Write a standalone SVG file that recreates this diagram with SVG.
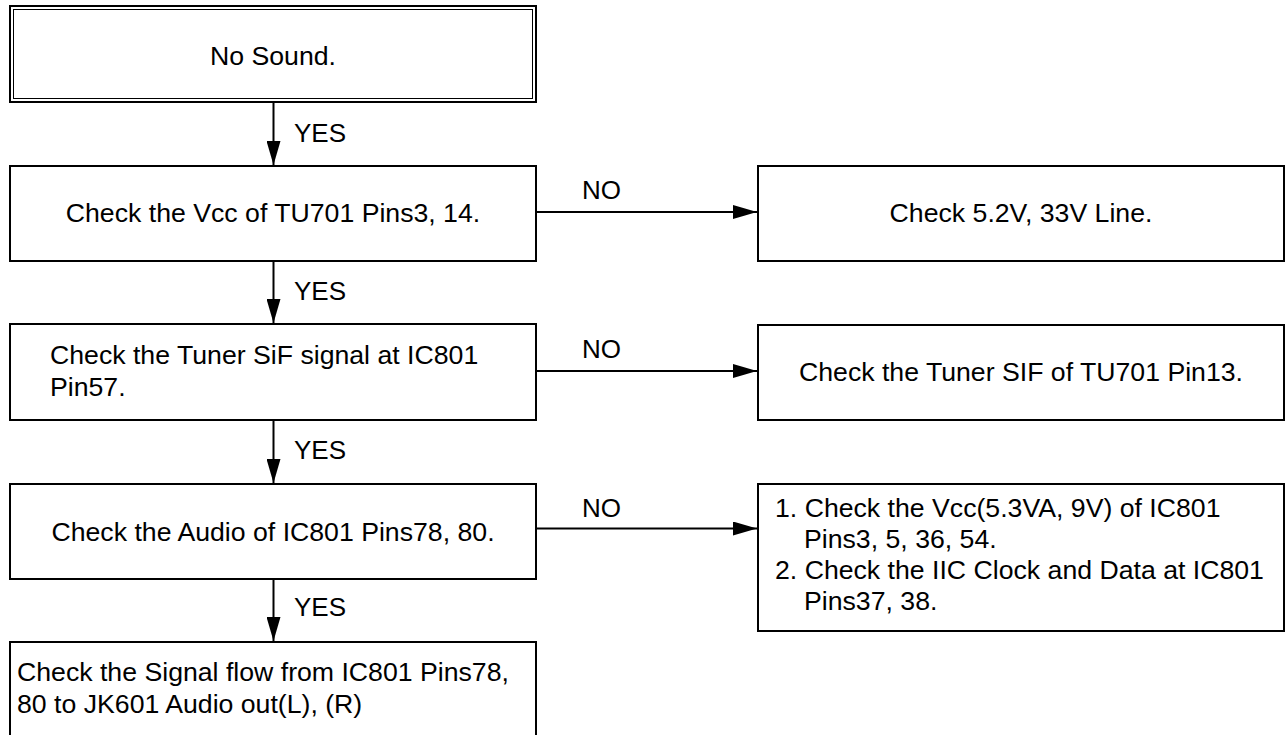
<svg xmlns="http://www.w3.org/2000/svg" width="1286" height="735" viewBox="0 0 1286 735">
<style>
  .box { fill: #ffffff; stroke: #000000; stroke-width: 2; }
  .inner { fill: none; stroke: #000000; stroke-width: 1; }
  .t { font-family: "Liberation Sans", Arial, Helvetica, sans-serif; font-size: 26.67px; fill: #000000; }
  .c { text-anchor: middle; }
  .lbl { font-family: "Liberation Sans", Arial, Helvetica, sans-serif; font-size: 26px; fill: #000000; }
  .conn { fill: none; stroke: #000000; stroke-width: 2; marker-end: url(#arrow); }
</style>
<defs>
  <marker id="arrow" viewBox="0 0 24 14" refX="24" refY="7" markerWidth="24" markerHeight="14" markerUnits="userSpaceOnUse" orient="auto">
    <path d="M0,0 L24,7 L0,14 Z" fill="#000000"/>
  </marker>
</defs>
<rect x="0" y="0" width="1286" height="735" fill="#ffffff"/>

<g id="start">
  <rect class="box" x="10" y="6" width="526" height="96"/>
  <rect class="inner" x="13.5" y="9.5" width="519" height="89"/>
  <text class="t c" x="273" y="65">No Sound.</text>
</g>

<g id="check-vcc-tu701">
  <rect class="box" x="10" y="166" width="526" height="95"/>
  <text class="t c" x="273" y="222">Check the Vcc of TU701 Pins3, 14.</text>
</g>

<g id="check-52v-33v">
  <rect class="box" x="758" y="166" width="526" height="95"/>
  <text class="t c" x="1021" y="222">Check 5.2V, 33V Line.</text>
</g>

<g id="check-tuner-sif-ic801">
  <rect class="box" x="10" y="324" width="526" height="96"/>
  <text class="t" x="50" y="364">Check the Tuner SiF signal at IC801</text>
  <text class="t" x="50" y="396">Pin57.</text>
</g>

<g id="check-tuner-sif-tu701">
  <rect class="box" x="758" y="325" width="526" height="95"/>
  <text class="t c" x="1021" y="381">Check the Tuner SIF of TU701 Pin13.</text>
</g>

<g id="check-audio-ic801">
  <rect class="box" x="10" y="484" width="526" height="95"/>
  <text class="t c" x="273" y="541">Check the Audio of IC801 Pins78, 80.</text>
</g>

<g id="check-vcc-iic">
  <rect class="box" x="758" y="484" width="526" height="147"/>
  <text class="t" x="775" y="517">1. Check the Vcc(5.3VA, 9V) of IC801</text>
  <text class="t" x="804" y="548">Pins3, 5, 36, 54.</text>
  <text class="t" x="775" y="579">2. Check the IIC Clock and Data at IC801</text>
  <text class="t" x="804" y="610">Pins37, 38.</text>
</g>

<g id="check-signal-flow">
  <rect class="box" x="10" y="642" width="526" height="94"/>
  <text class="t" x="17" y="681">Check the Signal flow from IC801 Pins78,</text>
  <text class="t" x="17" y="713">80 to JK601 Audio out(L), (R)</text>
</g>

<g id="connectors">
  <path class="conn" d="M273.5,103 L273.5,165"/>
  <text class="lbl" x="294" y="142">YES</text>
  <path class="conn" d="M273.5,262 L273.5,323"/>
  <text class="lbl" x="294" y="300">YES</text>
  <path class="conn" d="M273.5,421 L273.5,483"/>
  <text class="lbl" x="294" y="459">YES</text>
  <path class="conn" d="M273.5,580 L273.5,641"/>
  <text class="lbl" x="294" y="616">YES</text>

  <path class="conn" d="M537,212 L757,212"/>
  <text class="lbl" x="582" y="199">NO</text>
  <path class="conn" d="M537,371 L757,371"/>
  <text class="lbl" x="582" y="358">NO</text>
  <path class="conn" d="M537,528.5 L757,528.5"/>
  <text class="lbl" x="582" y="517">NO</text>
</g>
</svg>
